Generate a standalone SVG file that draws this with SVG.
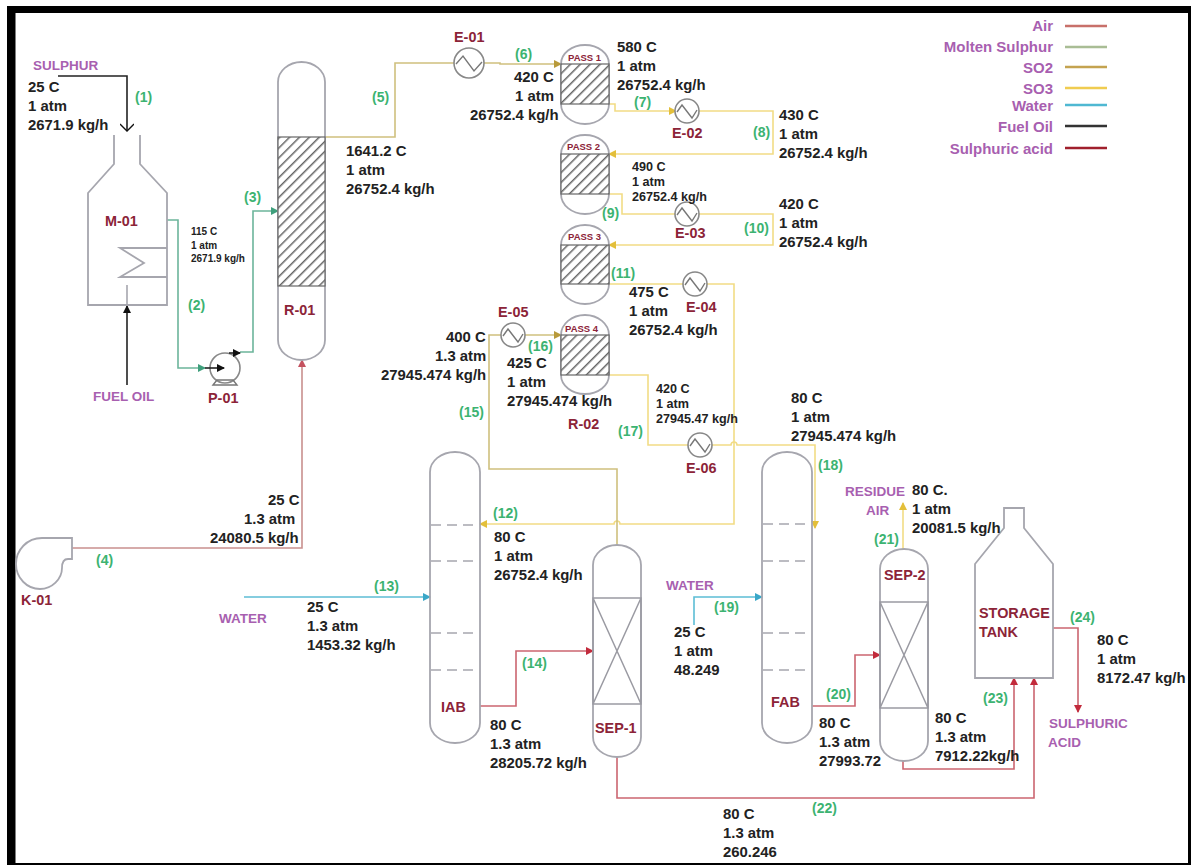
<svg xmlns="http://www.w3.org/2000/svg" width="1191" height="865" viewBox="0 0 1191 865">
<style>
text{font-family:"Liberation Sans",Arial,sans-serif;font-weight:bold}
.d{font-size:14.9px;fill:#222}
.s{font-size:12.6px;fill:#222}
.t{font-size:10px;fill:#222}
.g{font-size:14px;fill:#3cb371}
.p{font-size:13.5px;fill:#a85fb0}
.lg{font-size:15px;fill:#a85fb0}
.r{font-size:14.4px;fill:#8c2438}
.pass{font-size:9.5px;fill:#8c2438}
.v{fill:none;stroke:#a6a6ae;stroke-width:1.8}
.b{fill:none;stroke:#9a9aa2;stroke-width:1.5}
.h{fill:url(#hatch);stroke:#666;stroke-width:1.2}
.x{fill:#fff;stroke:#888;stroke-width:1.6}
.z{fill:none;stroke:#777;stroke-width:1.4}
.dash{stroke:#a6a6ae;stroke-width:1.5;stroke-dasharray:10 6;fill:none}
.c{fill:none;stroke-width:1.6}
.air{stroke:#c9908e}
.ms{stroke:#6cb59b}
.so2{stroke:#cfc07e}
.so3{stroke:#f2dc85}
.wat{stroke:#5cbdd5}
.oil{stroke:#222}
.acid{stroke:#cb6570}
.leg{stroke-width:2.4;fill:none}
</style>
<defs>
<pattern id="hatch" width="7" height="7" patternUnits="userSpaceOnUse" patternTransform="rotate(45)">
<rect width="7" height="7" fill="#fff"/><line x1="0" y1="0" x2="0" y2="7" stroke="#666" stroke-width="3"/>
</pattern>
<marker id="mAir" markerWidth="8" markerHeight="8" refX="7" refY="4" orient="auto" markerUnits="userSpaceOnUse"><path d="M0 0L8 4L0 8Z" fill="#c4525f"/></marker>
<marker id="mMs" markerWidth="8" markerHeight="8" refX="7" refY="4" orient="auto" markerUnits="userSpaceOnUse"><path d="M0 0L8 4L0 8Z" fill="#3f9f7c"/></marker>
<marker id="mSo2" markerWidth="8" markerHeight="8" refX="7" refY="4" orient="auto" markerUnits="userSpaceOnUse"><path d="M0 0L8 4L0 8Z" fill="#b89a3a"/></marker>
<marker id="mSo3" markerWidth="8" markerHeight="8" refX="7" refY="4" orient="auto" markerUnits="userSpaceOnUse"><path d="M0 0L8 4L0 8Z" fill="#e3bf3a"/></marker>
<marker id="mWat" markerWidth="8" markerHeight="8" refX="7" refY="4" orient="auto" markerUnits="userSpaceOnUse"><path d="M0 0L8 4L0 8Z" fill="#3aa7c8"/></marker>
<marker id="mAcid" markerWidth="8" markerHeight="8" refX="7" refY="4" orient="auto" markerUnits="userSpaceOnUse"><path d="M0 0L8 4L0 8Z" fill="#c22b3c"/></marker>
<marker id="mOil" markerWidth="8" markerHeight="8" refX="7" refY="4" orient="auto" markerUnits="userSpaceOnUse"><path d="M0 0L8 4L0 8Z" fill="#111"/></marker>
<marker id="mOpen" markerWidth="18" markerHeight="14" refX="9" refY="7" orient="auto" markerUnits="userSpaceOnUse"><path d="M2 0L9 7L2 14" fill="none" stroke="#111" stroke-width="1.3"/></marker>
</defs>
<rect width="1191" height="865" fill="#fff"/>
<path id="frame" d="M7 6H1191V865H7ZM15.500 13V863H1188V13Z" fill="#000" fill-rule="evenodd"/>

<g id="connectors">
<path class="c oil" d="M58 76H127V131" marker-end="url(#mOpen)"/>
<path class="c" stroke="#a6a6ae" d="M127 305V285"/>
<path class="c oil" d="M127 385V306" marker-end="url(#mOil)"/>
<path class="c ms" d="M167 220H178V368H205" marker-end="url(#mMs)"/>
<path class="c ms" d="M240 352H253V211H278" marker-end="url(#mMs)"/>
<path class="c air" d="M72 548H302V360" marker-end="url(#mAir)"/>
<path class="c so2" d="M325 137H395V63H455"/>
<path class="c so2" d="M483 63H500V64H561" marker-end="url(#mSo2)"/>
<path class="c so3" d="M609 104H615V111H676" marker-end="url(#mSo3)"/>
<path class="c so3" d="M699 111H773V154H609" marker-end="url(#mSo3)"/>
<path class="c so3" d="M609 194H622V214H676"/>
<path class="c so3" d="M699 214H773V245H609" marker-end="url(#mSo3)"/>
<path class="c so3" d="M609 284H683"/>
<path class="c so3" d="M707 284H734V524H620A3 3 0 0 0 614 524H480" marker-end="url(#mSo3)"/>
<path class="c so2" d="M617 545V469H489V335H501"/>
<path class="c so2" d="M525 335H561" marker-end="url(#mSo2)"/>
<path class="c so3" d="M609 375H648V445H688"/>
<path class="c so3" d="M712 445H731A3 3 0 0 1 737 445H815V528" marker-end="url(#mSo3)"/>
<path class="c wat" d="M244 597H430" marker-end="url(#mWat)"/>
<path class="c wat" d="M694 625V597H762" marker-end="url(#mWat)"/>
<path class="c acid" d="M480 706H516V651H593" marker-end="url(#mAcid)"/>
<path class="c acid" d="M812 706H855V655H880" marker-end="url(#mAcid)"/>
<path class="c so3" d="M903 549V503" marker-end="url(#mSo3)"/>
<path class="c acid" d="M903 761V769H1014V678" marker-end="url(#mAcid)"/>
<path class="c acid" d="M617 757V798H1034V678" marker-end="url(#mAcid)"/>
<path class="c acid" d="M1053 628H1078V712" marker-end="url(#mAcid)"/>
</g>

<g id="M-01">
<path class="v" d="M114 135V164L88 193V305H167V193L140 164V135"/>
<path class="v" d="M167 248H120L144 263L120 277H167"/>
<text class="r" x="105" y="226">M-01</text>
</g>
<g id="R-01">
<path class="v" d="M278 82A23.500 20 0 0 1 325 82V340A23.500 20 0 0 1 278 340Z"/>
<rect class="h" x="278" y="137" width="47" height="149"/>
<text class="r" x="284" y="315">R-01</text>
</g>
<g id="P-01">
<circle class="x" cx="225" cy="368" r="15"/>
<path class="z" d="M213 385L217 380H233L237 385Z"/>
<path class="c oil" d="M205 368H224" marker-end="url(#mOil)"/>
<path class="c oil" d="M229 353H240" marker-end="url(#mOil)"/>
<text class="r" x="208" y="403">P-01</text>
</g>
<g id="K-01">
<path class="v" d="M72 538H42C27 538 16 550 16 564C16 578 27 589 40 589C52 589 62 579 62 568C62 562 64 559 68 559H72Z"/>
<text class="r" x="21" y="605">K-01</text>
</g>
<g id="E-01"><circle class="x" cx="469" cy="63" r="15"/><path class="z" d="M456 64L463 56L474 71L482 62"/><text class="r" x="454" y="42">E-01</text></g>
<g id="E-02"><circle class="x" cx="687" cy="111" r="12"/><path class="z" d="M677 112L682 105L692 118L697 110"/><text class="r" x="672" y="138">E-02</text></g>
<g id="E-03"><circle class="x" cx="687" cy="214" r="12"/><path class="z" d="M677 215L682 208L692 221L697 213"/><text class="r" x="675" y="238">E-03</text></g>
<g id="E-04"><circle class="x" cx="695" cy="284" r="12"/><path class="z" d="M685 285L690 278L700 291L705 283"/><text class="r" x="686" y="312">E-04</text></g>
<g id="E-05"><circle class="x" cx="513" cy="335" r="12"/><path class="z" d="M503 336L508 329L518 342L523 334"/><text class="r" x="498" y="317">E-05</text></g>
<g id="E-06"><circle class="x" cx="700" cy="445" r="12"/><path class="z" d="M690 446L695 439L705 452L710 444"/><text class="r" x="686" y="473">E-06</text></g>
<g id="R-02">
<g id="PASS-1"><path class="v" d="M561 64A24 19 0 0 1 609 64V104A24 20 0 0 1 561 104Z"/><rect class="h" x="561" y="64" width="48" height="40"/><text class="pass" x="568" y="61">PASS 1</text></g>
<g id="PASS-2"><path class="v" d="M561 154A24 19 0 0 1 609 154V194A24 20 0 0 1 561 194Z"/><rect class="h" x="561" y="154" width="48" height="40"/><text class="pass" x="567" y="150">PASS 2</text></g>
<g id="PASS-3"><path class="v" d="M561 245A24 20 0 0 1 609 245V284A24 20 0 0 1 561 284Z"/><rect class="h" x="561" y="245" width="48" height="39"/><text class="pass" x="568" y="240">PASS 3</text></g>
<g id="PASS-4"><path class="v" d="M561 335A24 20 0 0 1 609 335V375A24 19 0 0 1 561 375Z"/><rect class="h" x="561" y="335" width="48" height="40"/><text class="pass" x="565" y="332">PASS 4</text></g>
<text class="r" x="568" y="429">R-02</text>
</g>
<g id="IAB">
<path class="v" d="M430 472A25 20 0 0 1 480 472V723A25 20 0 0 1 430 723Z"/>
<path class="dash" d="M431 525H477M431 561H477M431 633H477M431 670H477"/>
<text class="r" x="441" y="712">IAB</text>
</g>
<g id="SEP-1">
<path class="v" d="M593 565A24 20 0 0 1 641 565V737A24 20 0 0 1 593 737Z"/>
<path class="b" d="M593 598H641V704H593ZM593 598L641 704M641 598L593 704"/>
<text class="r" x="595" y="733">SEP-1</text>
</g>
<g id="FAB">
<path class="v" d="M762 472A25 20 0 0 1 812 472V723A25 20 0 0 1 762 723Z"/>
<path class="dash" d="M763 524H809M763 561H809M763 633H809M763 670H809"/>
<text class="r" x="771" y="707">FAB</text>
</g>
<g id="SEP-2">
<path class="v" d="M880 569A24 20 0 0 1 928 569V741A24 20 0 0 1 880 741Z"/>
<path class="b" d="M880 602H928V708H880ZM880 602L928 708M928 602L880 708"/>
<text class="r" x="884" y="580">SEP-2</text>
</g>
<g id="STORAGE-TANK">
<path class="v" d="M1004 528V508H1024V528L1053 564V678H975V564Z"/>
<text class="r" x="979" y="618">STORAGE</text>
<text class="r" x="979" y="637">TANK</text>
</g>

<g id="stream-labels">
<text class="p" x="33" y="70">SULPHUR</text>
<text class="p" x="93" y="401">FUEL OIL</text>
<text class="p" x="219" y="623">WATER</text>
<text class="p" x="666" y="590">WATER</text>
<text class="p" x="845" y="496">RESIDUE</text>
<text class="p" x="866" y="515">AIR</text>
<text class="p" x="1049" y="728">SULPHURIC</text>
<text class="p" x="1048" y="747">ACID</text>

<text class="g" x="135" y="102">(1)</text>
<text class="g" x="188" y="310">(2)</text>
<text class="g" x="244" y="202">(3)</text>
<text class="g" x="96" y="565">(4)</text>
<text class="g" x="372" y="102">(5)</text>
<text class="g" x="515" y="59">(6)</text>
<text class="g" x="634" y="107">(7)</text>
<text class="g" x="753" y="137">(8)</text>
<text class="g" x="602" y="218">(9)</text>
<text class="g" x="744" y="233">(10)</text>
<text class="g" x="611" y="278">(11)</text>
<text class="g" x="493" y="518">(12)</text>
<text class="g" x="374" y="591">(13)</text>
<text class="g" x="522" y="668">(14)</text>
<text class="g" x="459" y="417">(15)</text>
<text class="g" x="528" y="351">(16)</text>
<text class="g" x="618" y="436">(17)</text>
<text class="g" x="818" y="470">(18)</text>
<text class="g" x="714" y="612">(19)</text>
<text class="g" x="826" y="699">(20)</text>
<text class="g" x="874" y="544">(21)</text>
<text class="g" x="812" y="813">(22)</text>
<text class="g" x="983" y="703">(23)</text>
<text class="g" x="1070" y="622">(24)</text>

<text class="d" x="28" y="92">25 C<tspan x="28" dy="19">1 atm</tspan><tspan x="28" dy="19">2671.9 kg/h</tspan></text>
<text class="t" x="191" y="235">115 C<tspan x="191" dy="13.500">1 atm</tspan><tspan x="191" dy="13.500">2671.9 kg/h</tspan></text>
<text class="d" x="346" y="156">1641.2 C<tspan x="346" dy="19">1 atm</tspan><tspan x="346" dy="19">26752.4 kg/h</tspan></text>
<text class="d" x="514" y="82">420 C<tspan x="515" dy="19">1 atm</tspan><tspan x="470" dy="19">26752.4 kg/h</tspan></text>
<text class="d" x="617" y="52">580 C<tspan x="617" dy="19">1 atm</tspan><tspan x="617" dy="19">26752.4 kg/h</tspan></text>
<text class="d" x="779" y="120">430 C<tspan x="779" dy="19">1 atm</tspan><tspan x="779" dy="19">26752.4 kg/h</tspan></text>
<text class="s" x="632" y="171">490 C<tspan x="632" dy="15">1 atm</tspan><tspan x="632" dy="15">26752.4 kg/h</tspan></text>
<text class="d" x="779" y="209">420 C<tspan x="779" dy="19">1 atm</tspan><tspan x="779" dy="19">26752.4 kg/h</tspan></text>
<text class="d" x="629" y="297">475 C<tspan x="629" dy="19">1 atm</tspan><tspan x="629" dy="19">26752.4 kg/h</tspan></text>
<text class="d" x="446" y="342">400 C<tspan x="435" dy="19">1.3 atm</tspan><tspan x="381" dy="19">27945.474 kg/h</tspan></text>
<text class="d" x="507" y="368">425 C<tspan x="507" dy="19">1 atm</tspan><tspan x="507" dy="19">27945.474 kg/h</tspan></text>
<text class="s" x="656" y="393">420 C<tspan x="656" dy="15">1 atm</tspan><tspan x="656" dy="15">27945.47 kg/h</tspan></text>
<text class="d" x="791" y="403">80 C<tspan x="791" dy="19">1 atm</tspan><tspan x="791" dy="19">27945.474 kg/h</tspan></text>
<text class="d" x="268" y="505">25 C<tspan x="244" dy="19">1.3 atm</tspan><tspan x="210" dy="19">24080.5 kg/h</tspan></text>
<text class="d" x="494" y="542">80 C<tspan x="494" dy="19">1 atm</tspan><tspan x="494" dy="19">26752.4 kg/h</tspan></text>
<text class="d" x="307" y="612">25 C<tspan x="307" dy="19">1.3 atm</tspan><tspan x="307" dy="19">1453.32 kg/h</tspan></text>
<text class="d" x="490" y="730">80 C<tspan x="490" dy="19">1.3 atm</tspan><tspan x="490" dy="19">28205.72 kg/h</tspan></text>
<text class="d" x="674" y="637">25 C<tspan x="674" dy="19">1 atm</tspan><tspan x="674" dy="19">48.249</tspan></text>
<text class="d" x="819" y="728">80 C<tspan x="819" dy="19">1.3 atm</tspan><tspan x="819" dy="19">27993.72</tspan></text>
<text class="d" x="935" y="723">80 C<tspan x="935" dy="19">1.3 atm</tspan><tspan x="935" dy="19">7912.22kg/h</tspan></text>
<text class="d" x="912" y="495">80 C.<tspan x="912" dy="19">1 atm</tspan><tspan x="912" dy="19">20081.5 kg/h</tspan></text>
<text class="d" x="1097" y="645">80 C<tspan x="1097" dy="19">1 atm</tspan><tspan x="1097" dy="19">8172.47 kg/h</tspan></text>
<text class="d" x="723" y="819">80 C<tspan x="723" dy="19">1.3 atm</tspan><tspan x="723" dy="19">260.246</tspan></text>
</g>

<g id="legend" text-anchor="end">
<text class="lg" x="1053" y="31">Air</text><path class="leg" stroke="#c8706a" d="M1065 26H1107"/>
<text class="lg" x="1053" y="52">Molten Sulphur</text><path class="leg" stroke="#a9bd95" d="M1065 47H1107"/>
<text class="lg" x="1053" y="73">SO2</text><path class="leg" stroke="#c4a350" d="M1065 67H1107"/>
<text class="lg" x="1053" y="94">SO3</text><path class="leg" stroke="#f0cc50" d="M1065 88H1107"/>
<text class="lg" x="1053" y="111">Water</text><path class="leg" stroke="#4fb8d2" d="M1065 105H1107"/>
<text class="lg" x="1053" y="132">Fuel Oil</text><path class="leg" stroke="#333" d="M1065 126H1107"/>
<text class="lg" x="1053" y="154">Sulphuric acid</text><path class="leg" stroke="#a0202c" d="M1065 148H1107"/>
</g>
</svg>
